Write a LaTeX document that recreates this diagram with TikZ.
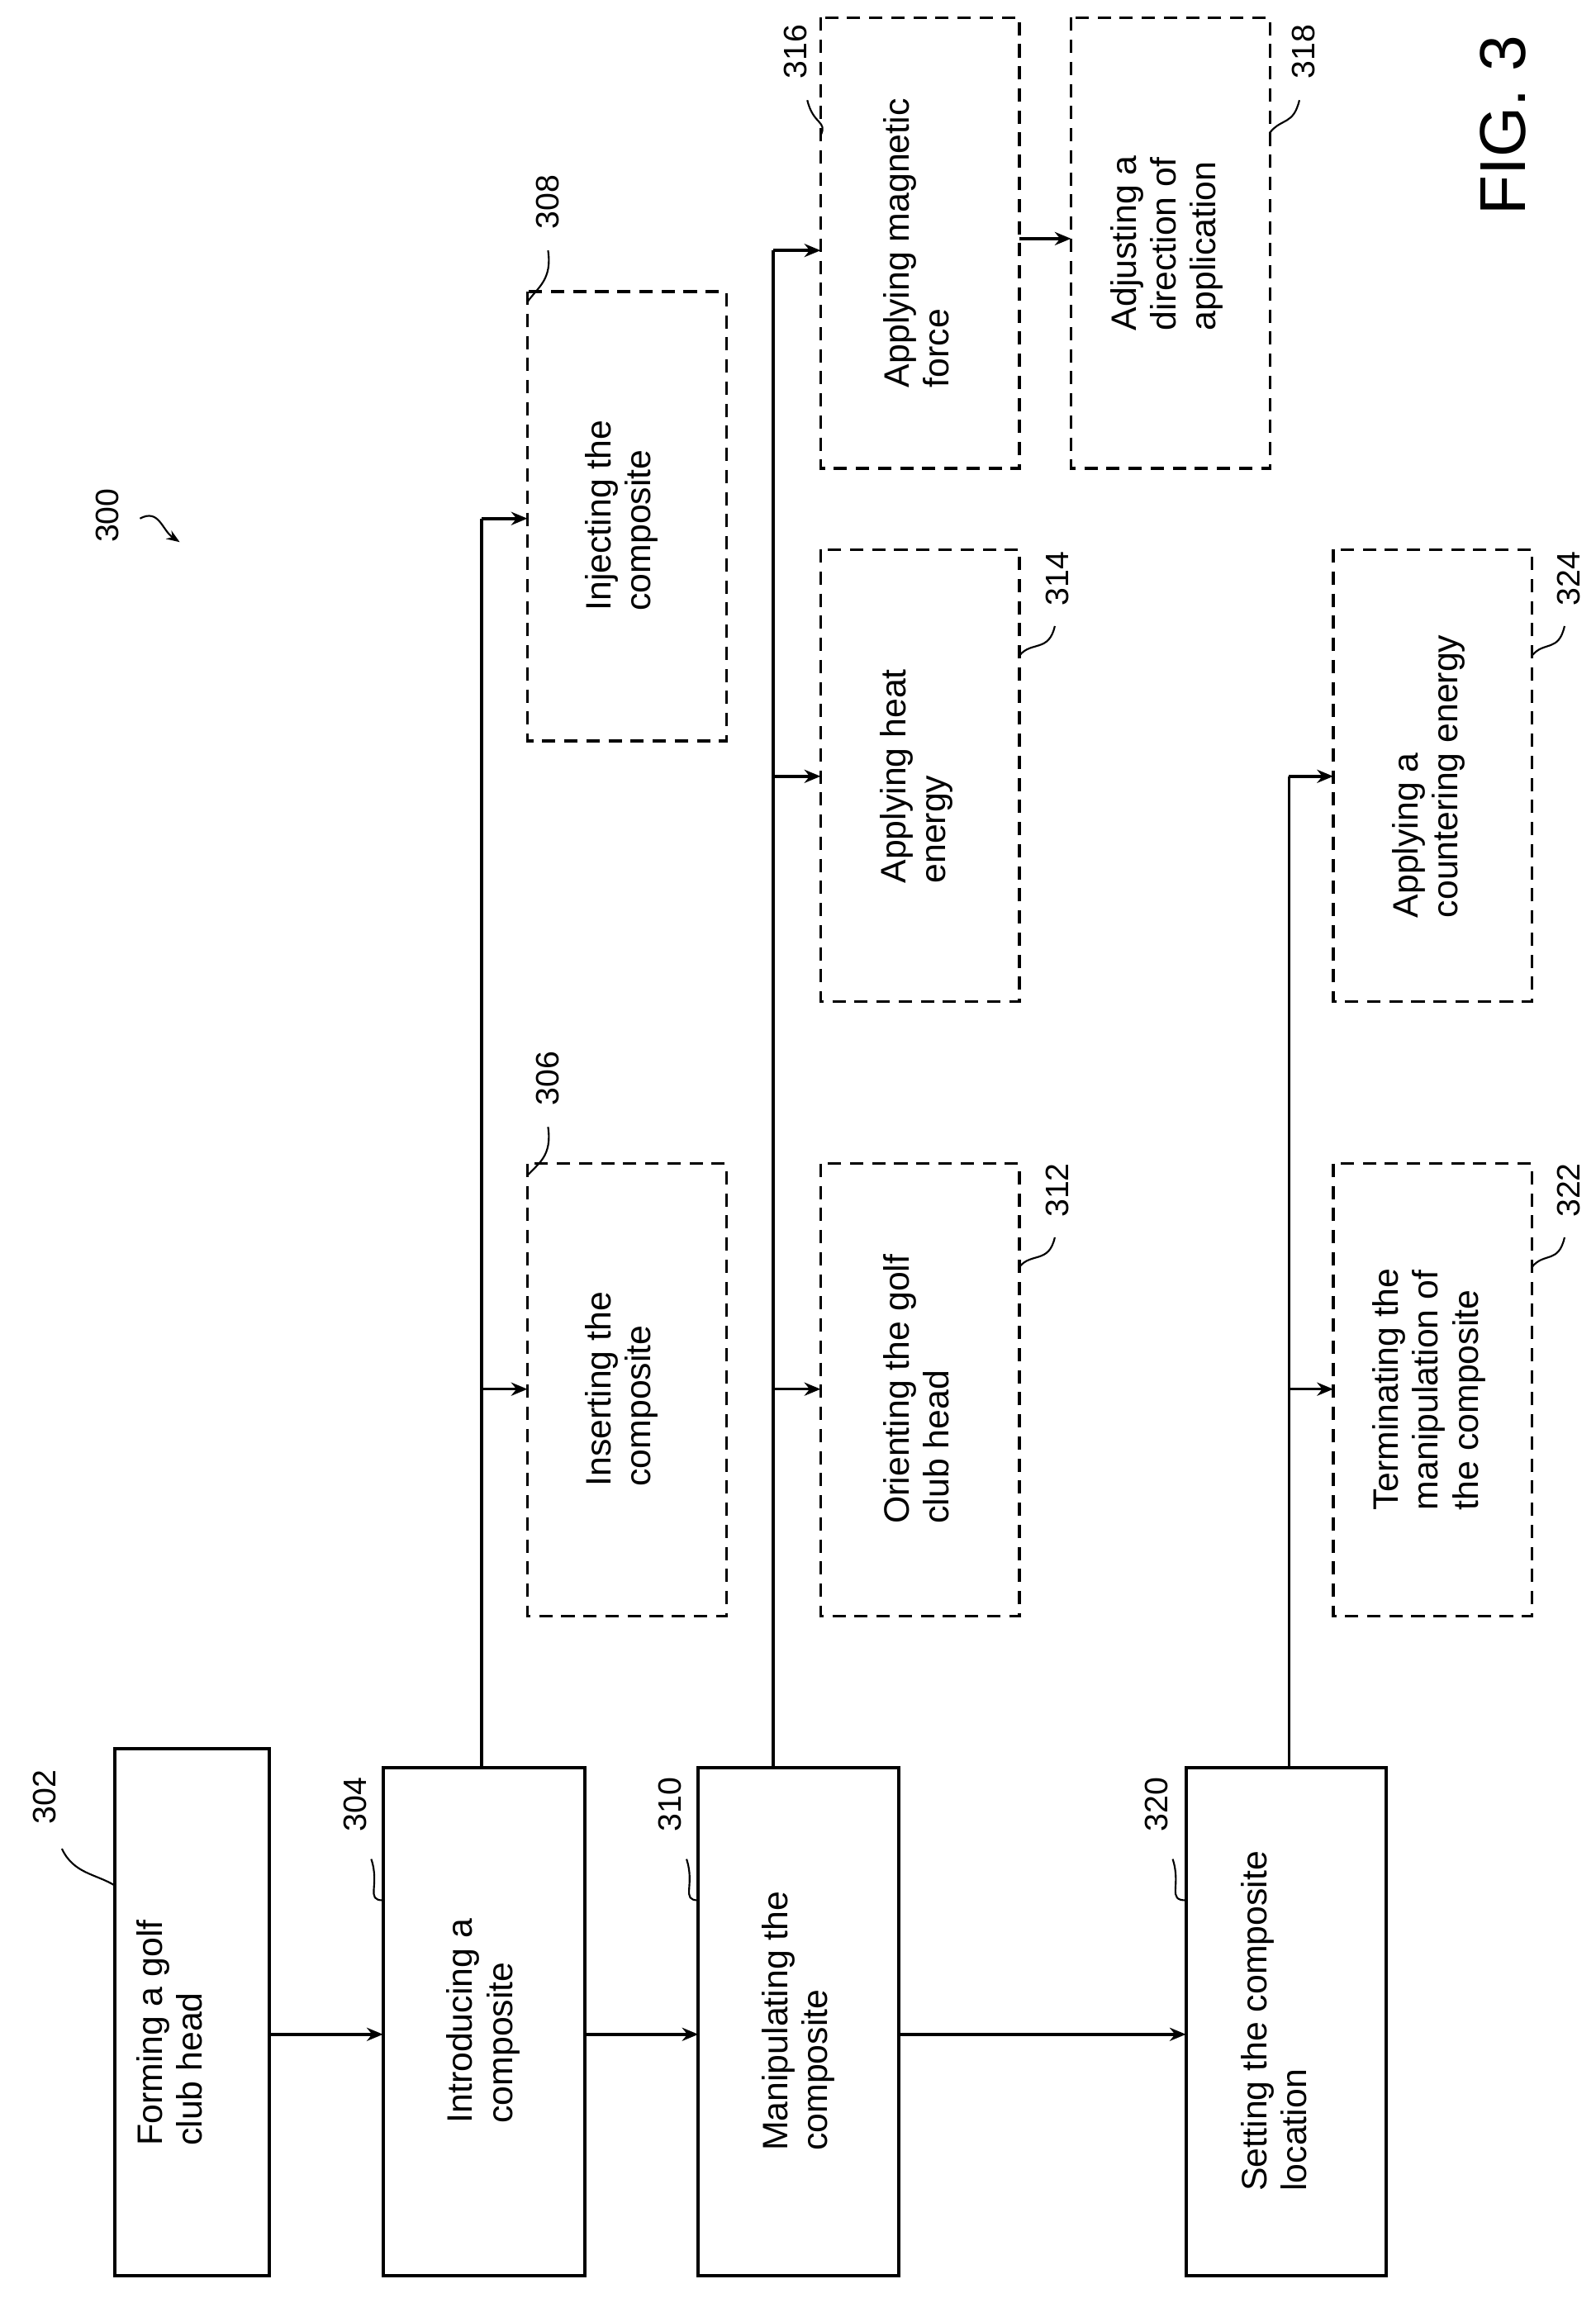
\documentclass[tikz,border=0pt]{standalone}
\usepackage{fontspec}
\setmainfont{Liberation Sans}
\usetikzlibrary{arrows.meta}
\begin{document}
\begin{tikzpicture}[x=1pt,y=-1pt,
  sbox/.style={draw,line width=2.2pt},
  dbox/.style={draw,line width=1.8pt,dash pattern=on 9pt off 6pt},
  txt/.style={rotate=90,align=left,font=\fontsize{24}{27}\selectfont},
  lbl/.style={rotate=90,font=\fontsize{22}{24}\selectfont},
  ar/.style={-{Stealth[length=11pt,width=9pt]},line width=2pt},
  ln/.style={line width=2pt},
  ld/.style={line width=1.2pt}]
\useasboundingbox (0,0) rectangle (1083,1560);
% solid boxes
\draw[sbox] (78,1187) rectangle (183,1545); \node[txt] (t302) at (115,1380) {Forming a golf\\club head};
\draw[sbox] (260,1200) rectangle (397,1545); \node[txt] (t304) at (328,1372) {Introducing a\\composite};
\draw[sbox] (474,1200) rectangle (610,1545); \node[txt] (t310) at (542,1372) {Manipulating the\\composite};
\draw[sbox] (805,1200) rectangle (941,1545); \node[txt] (t320) at (865,1372) {Setting the composite\\location};
\coordinate (a1) at (183,1381); \coordinate (a2) at (260,1381);
\coordinate (a3) at (397,1381); \coordinate (a4) at (474,1381);
\coordinate (a5) at (610,1381); \coordinate (a6) at (805,1381);
\draw[ar] (a1) -- (a2); \draw[ar] (a3) -- (a4); \draw[ar] (a5) -- (a6);
% dashed boxes
\draw[dbox] (358,790) rectangle (493,1097); \node[txt] (t306) at (422,943) {Inserting the\\composite};
\draw[dbox] (358,198) rectangle (493,503); \node[txt] (t308) at (422,350) {Injecting the\\composite};
\draw[dbox] (557,790) rectangle (692,1097); \node[txt] (t312) at (622,943) {Orienting the golf\\club head};
\draw[dbox] (557,373) rectangle (692,680); \node[txt] (t314) at (622,527) {Applying heat\\energy};
\draw[dbox] (557,12) rectangle (692,318); \node[txt] (t316) at (622,165) {Applying magnetic\\force};
\draw[dbox] (727,12) rectangle (862,318); \node[txt] (t318) at (792,165) {Adjusting a\\direction of\\application};
\draw[dbox] (905,790) rectangle (1040,1097); \node[txt] (t322) at (970,943) {Terminating the\\manipulation of\\the composite};
\draw[dbox] (905,373) rectangle (1040,680); \node[txt] (t324) at (970,527) {Applying a\\countering energy};
% branches
\draw[ln] (327,1200) -- (327,352);
\draw[ar] (327,943) -- (358,943); \draw[ar] (327,352) -- (358,352);
\draw[ln] (525,1200) -- (525,170);
\draw[ar] (525,943) -- (557,943); \draw[ar] (525,527) -- (557,527); \draw[ar] (525,170) -- (557,170);
\coordinate (m1) at (692,162); \coordinate (m2) at (727,162);
\draw[ar] (m1) -- (m2);
\draw[ln] (875,1200) -- (875,527);
\draw[ar] (875,943) -- (905,943); \draw[ar] (875,527) -- (905,527);
% labels
\node[lbl] at (30,1220) {302};
\draw[ld] (42,1255) .. controls (50,1272) and (65,1272) .. (78,1280);
\node[lbl] at (241,1225) {304};
\draw[ld] (252,1262) .. controls (258,1280) and (248,1290) .. (260,1290);
\node[lbl] at (455,1225) {310};
\draw[ld] (466,1262) .. controls (472,1280) and (462,1290) .. (474,1290);
\node[lbl] at (785,1225) {320};
\draw[ld] (796,1262) .. controls (802,1280) and (792,1290) .. (805,1290);
\node[lbl] at (372,732) {306};
\draw[ld] (372,765) .. controls (375,785) and (365,790) .. (358,798);
\node[lbl] at (372,137) {308};
\draw[ld] (372,170) .. controls (375,190) and (365,195) .. (358,205);
\node[lbl] at (718,808) {312};
\draw[ld] (716,840) .. controls (712,858) and (700,850) .. (692,860);
\node[lbl] at (718,393) {314};
\draw[ld] (716,425) .. controls (712,443) and (700,435) .. (692,445);
\node[lbl] at (540,35) {316};
\draw[ld] (548,68) .. controls (552,85) and (562,82) .. (557,92);
\node[lbl] at (885,35) {318};
\draw[ld] (882,68) .. controls (878,85) and (870,80) .. (862,90);
\node[lbl] at (1065,808) {322};
\draw[ld] (1062,840) .. controls (1058,858) and (1048,850) .. (1040,860);
\node[lbl] at (1065,393) {324};
\draw[ld] (1062,425) .. controls (1058,443) and (1048,435) .. (1040,445);
\node[lbl] at (73,350) {300};
\draw[ld,-{Stealth[length=9pt]}] (95,352) .. controls (108,345) and (110,360) .. (122,368);
\node[rotate=90,font=\fontsize{44}{48}\selectfont] at (1020,85) {FIG. 3};
\end{tikzpicture}
\end{document}
